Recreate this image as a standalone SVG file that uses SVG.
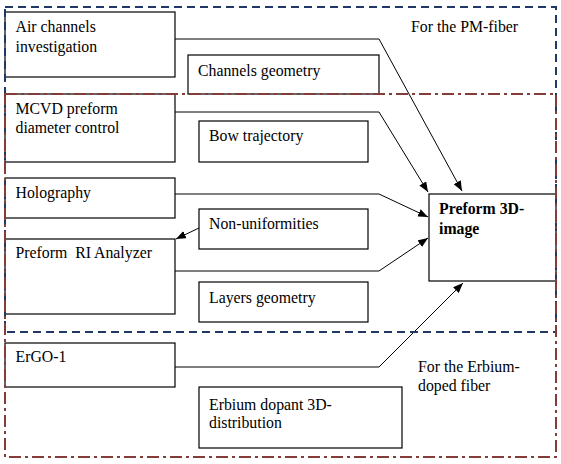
<svg xmlns="http://www.w3.org/2000/svg" width="561" height="464" viewBox="0 0 561 464">
<defs>
<marker id="ah" markerWidth="10" markerHeight="8" refX="10" refY="4" orient="auto" markerUnits="userSpaceOnUse">
<path d="M0,0 L10,4 L0,8 Z" fill="#000"/>
</marker>
<style>
.box{fill:#fff;stroke:#000;stroke-width:1.2}
.t{font-family:"Liberation Serif","Times New Roman",serif;font-size:15.8px;fill:#000}
.b{font-weight:bold}
.c{fill:none;stroke:#000;stroke-width:1;marker-end:url(#ah)}
.pm{fill:none;stroke:#1f3864;stroke-width:2;stroke-dasharray:8 5}
.er{fill:none;stroke:#843c39;stroke-width:2;stroke-dasharray:12 4 3 4}
</style>
</defs>
<rect width="561" height="464" fill="#fff"/>
<g id="connectors">
<polyline class="c" points="175,39 379,39 462,191"/>
<polyline class="c" points="175,112 379,112 428,192"/>
<polyline class="c" points="175,194 379,194 428,217"/>
<polyline class="c" points="199,228 176,239"/>
<polyline class="c" points="175,271 379,271 428,238"/>
<polyline class="c" points="175,367 379,367 463,283"/>
</g>
<g id="air"><rect class="box" x="5" y="12" width="170" height="65"/><text class="t" x="15.5" y="32">Air channels</text><text class="t" x="15.5" y="51.5">investigation</text></g>
<g id="channels"><rect class="box" x="188" y="55" width="191" height="39"/><text class="t" x="198" y="76">Channels geometry</text></g>
<g id="mcvd"><rect class="box" x="5" y="94" width="170" height="68"/><text class="t" x="15.5" y="114">MCVD preform</text><text class="t" x="15.5" y="133">diameter control</text></g>
<g id="bow"><rect class="box" x="199" y="121" width="169" height="41"/><text class="t" x="209" y="141">Bow trajectory</text></g>
<g id="holo"><rect class="box" x="5" y="178" width="170" height="40"/><text class="t" x="15.5" y="198">Holography</text></g>
<g id="nonu"><rect class="box" x="199" y="209" width="169" height="40"/><text class="t" x="209" y="229">Non-uniformities</text></g>
<g id="ri"><rect class="box" x="5" y="239" width="170" height="75"/><text class="t" x="15.5" y="258" xml:space="preserve">Preform  RI Analyzer</text></g>
<g id="layers"><rect class="box" x="199" y="282" width="169" height="40"/><text class="t" x="209" y="303">Layers geometry</text></g>
<g id="ergo"><rect class="box" x="5" y="343" width="170" height="44"/><text class="t" x="15.5" y="362">ErGO-1</text></g>
<g id="erbium"><rect class="box" x="199" y="387" width="203" height="61"/><text class="t" x="209" y="410">Erbium dopant 3D-</text><text class="t" x="209" y="428">distribution</text></g>
<g id="preform3d"><rect class="box" x="429" y="194" width="127" height="87"/><text class="t b" x="439" y="214">Preform 3D-</text><text class="t b" x="439" y="234">image</text></g>
<g id="regions">
<rect class="pm" x="5" y="7" width="551" height="325"/>
<rect class="er" x="5" y="94" width="551" height="363"/>
<text class="t" x="411" y="32">For the PM-fiber</text>
<text class="t" x="418" y="372">For the Erbium-</text>
<text class="t" x="418" y="391">doped fiber</text>
</g>
</svg>
